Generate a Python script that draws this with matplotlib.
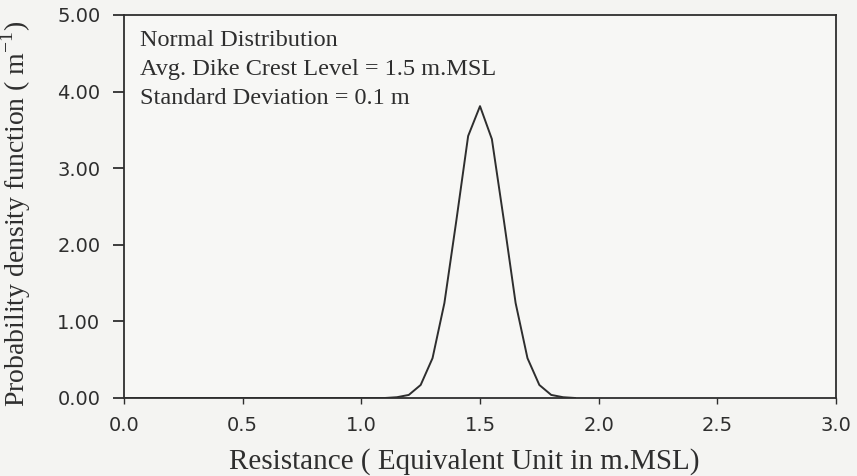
import matplotlib.pyplot as plt

# density curve
resistance = [0.0, 1.10, 1.15, 1.20, 1.25, 1.30, 1.35, 1.40, 1.45, 1.50,
              1.55, 1.60, 1.65, 1.70, 1.75, 1.80, 1.85, 1.90]
density = [0.0, 0.0, 0.01, 0.04, 0.17, 0.52, 1.24, 2.31, 3.42, 3.81,
           3.38, 2.33, 1.24, 0.52, 0.17, 0.04, 0.01, 0.0]

xticks = [0.0, 0.5, 1.0, 1.5, 2.0, 2.5, 3.0]
yticks = [0.0, 1.0, 2.0, 3.0, 4.0, 5.0]
notes = ["Normal Distribution",
         "Avg. Dike Crest Level = 1.5 m.MSL",
         "Standard Deviation = 0.1 m"]

ink = '#2e2e2e'
serif = ['Liberation Serif', 'DejaVu Serif']
plt.rcParams['font.family'] = ['DejaVu Sans']

fig = plt.figure(figsize=(8.57, 4.76), dpi=100, facecolor='#f4f4f2')
ax = fig.add_axes([0.1447, 0.1639, 0.8308, 0.8046])
ax.set_facecolor('#f7f7f5')

ax.plot(resistance, density, color=ink, linewidth=1.4)

ax.set_xlim(0, 3)
ax.set_ylim(0, 5)
ax.set_xticks(xticks)
ax.set_xticklabels(['%.1f' % v for v in xticks])
ax.set_yticks(yticks)
ax.set_yticklabels(['%.2f' % v for v in yticks])

for s in ax.spines.values():
    s.set_color(ink)
    s.set_linewidth(1.3)

ax.tick_params(axis='y', direction='out', length=8, width=1.3, pad=9,
               labelsize=14, colors=ink)
ax.tick_params(axis='x', direction='out', length=4, width=1.0, pad=9,
               labelsize=14, colors=ink)

ax.set_xlabel('Resistance ( Equivalent Unit in m.MSL)', family=serif,
              fontsize=21, color=ink)
ax.xaxis.set_label_coords(0.4775, -0.13)
ax.set_ylabel('Probability density function ( m$^{\\mathregular{-1}}$)',
              family=serif, fontsize=20, color=ink)
ax.yaxis.set_label_coords(-0.128, 0.48)

for i, t in enumerate(notes):
    ax.text(0.022, 0.918 - i * 0.0757, t, transform=ax.transAxes,
            family=serif, fontsize=17.5, color=ink, va='baseline')

fig.savefig('out.png', dpi=100, facecolor=fig.get_facecolor())
